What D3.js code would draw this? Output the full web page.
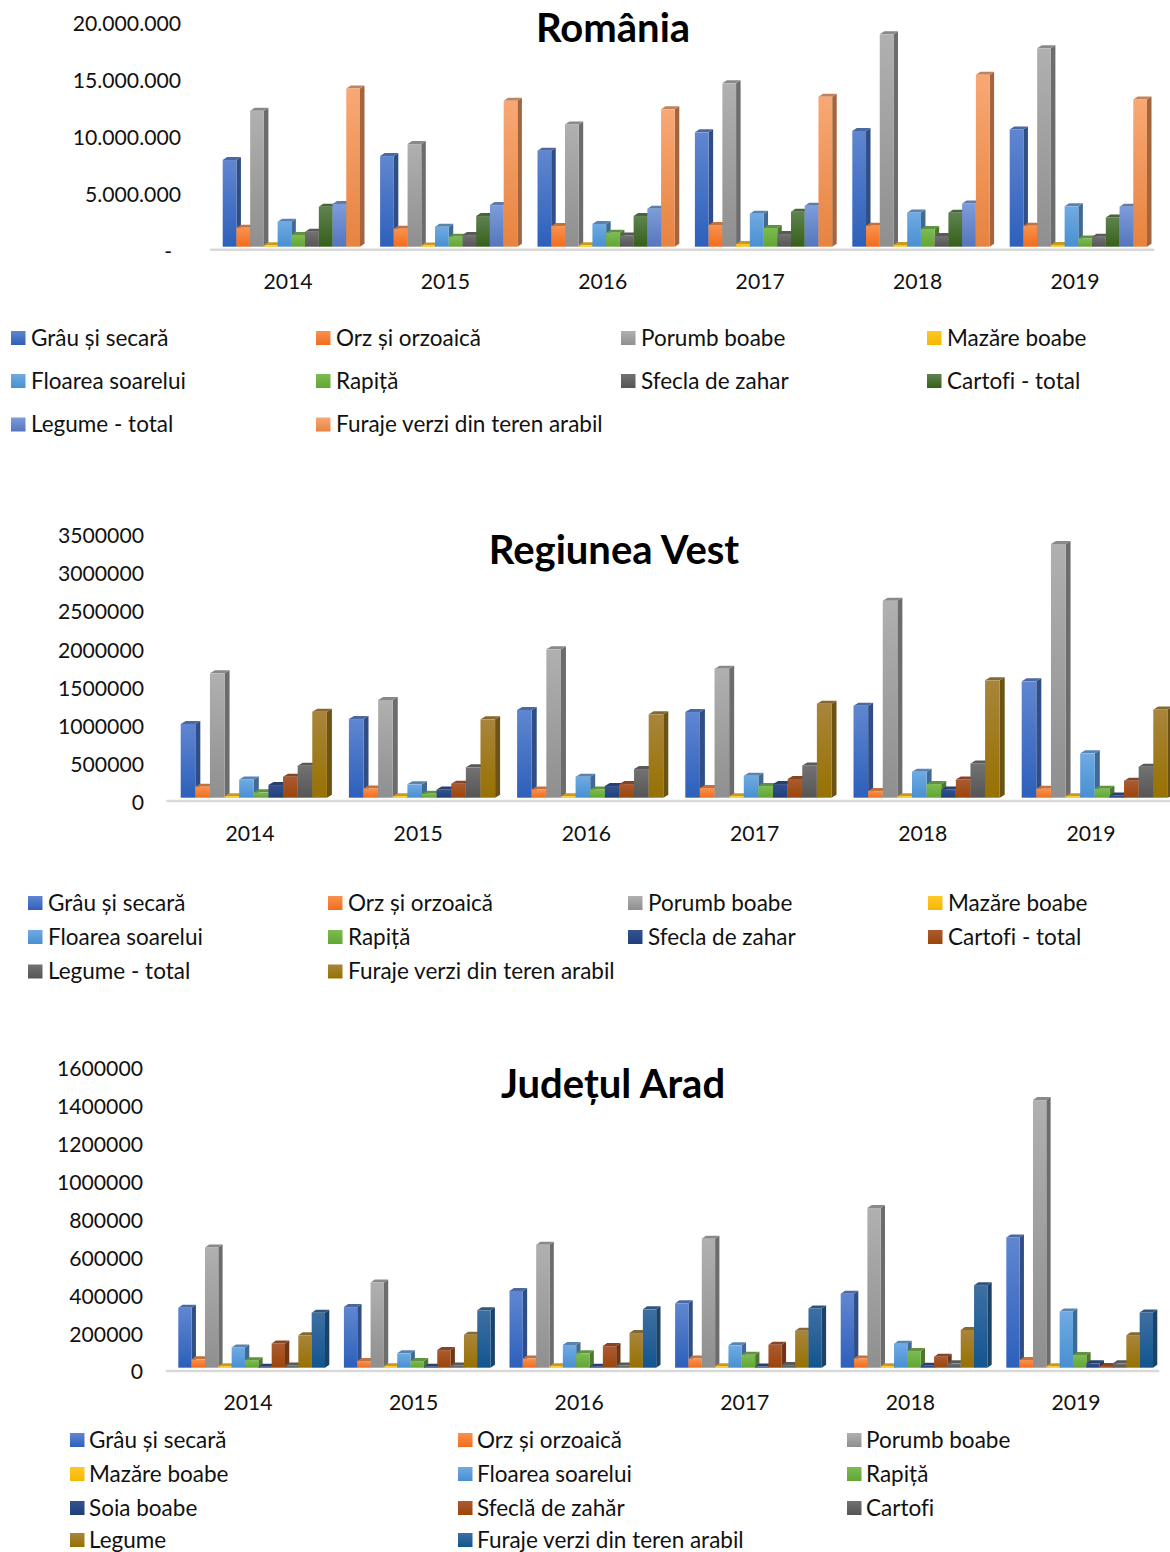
<!DOCTYPE html>
<html>
<head>
<meta charset="utf-8">
<script src="https://cdn.jsdelivr.net/npm/d3@7"></script>
<style>
  html, body { margin: 0; background: #fff; }
  svg { display: block; font-family: Lato, "Open Sans", sans-serif; font-variant-ligatures: none; }
</style>
</head>
<body>
<div id="chart"></div>
<script>
const years = ["2014", "2015", "2016", "2017", "2018", "2019"];

// Romania
const roNames = ["Grâu și secară", "Orz și orzoaică", "Porumb boabe", "Mazăre boabe", "Floarea soarelui",
  "Rapiță", "Sfecla de zahar", "Cartofi - total", "Legume - total", "Furaje verzi din teren arabil"];
const roValues = [
  [7600000, 1670000, 11930000, 120000, 2190000, 1030000, 1320000, 3510000, 3750000, 13870000],
  [7950000, 1580000, 9000000, 100000, 1750000, 880000, 1020000, 2690000, 3650000, 12800000],
  [8420000, 1810000, 10730000, 120000, 1990000, 1230000, 990000, 2690000, 3330000, 12050000],
  [10030000, 1900000, 14330000, 230000, 2890000, 1640000, 1110000, 3070000, 3600000, 13160000],
  [10150000, 1840000, 18630000, 150000, 3010000, 1550000, 940000, 2980000, 3800000, 15090000],
  [10290000, 1840000, 17400000, 150000, 3540000, 730000, 880000, 2570000, 3510000, 12920000]
];
const roTicks = [0, 5000000, 10000000, 15000000, 20000000];

// Regiunea Vest
const vestNames = ["Grâu și secară", "Orz și orzoaică", "Porumb boabe", "Mazăre boabe", "Floarea soarelui",
  "Rapiță", "Sfecla de zahar", "Cartofi - total", "Legume - total", "Furaje verzi din teren arabil"];
const vestValues = [
  [967000, 144000, 1632000, 20000, 240000, 70000, 166000, 276000, 420000, 1129000],
  [1032000, 122000, 1282000, 20000, 175000, 52000, 109000, 184000, 398000, 1028000],
  [1151000, 109000, 1947000, 20000, 276000, 109000, 153000, 179000, 376000, 1094000],
  [1124000, 127000, 1693000, 20000, 289000, 153000, 179000, 245000, 424000, 1234000],
  [1207000, 87000, 2585000, 20000, 341000, 179000, 109000, 240000, 450000, 1540000],
  [1527000, 118000, 3329000, 20000, 582000, 118000, 30000, 223000, 407000, 1159000]
];
const vestTicks = [0, 500000, 1000000, 1500000, 2000000, 2500000, 3000000, 3500000];

// Judetul Arad
const aradNames = ["Grâu și secară", "Orz și orzoaică", "Porumb boabe", "Mazăre boabe", "Floarea soarelui",
  "Rapiță", "Soia boabe", "Sfeclă de zahăr", "Cartofi", "Legume", "Furaje verzi din teren arabil"];
const aradValues = [
  [317000, 44000, 635000, 8000, 107000, 40000, 5000, 128000, 12000, 171000, 290000],
  [320000, 35000, 450000, 8000, 76000, 35000, 5000, 93000, 12000, 174000, 303000],
  [405000, 48000, 649000, 8000, 120000, 76000, 5000, 114000, 12000, 183000, 308000],
  [340000, 48000, 681000, 8000, 118000, 69000, 6000, 121000, 14000, 195000, 313000],
  [391000, 49000, 843000, 8000, 127000, 88000, 10000, 58000, 23000, 199000, 436000],
  [688000, 41000, 1413000, 8000, 297000, 67000, 23000, 9000, 23000, 172000, 292000]
];
const aradTicks = [0, 200000, 400000, 600000, 800000, 1000000, 1200000, 1400000, 1600000];

// culori: [sus, jos]
const blue = ["#6086d0", "#2d60bb"], orange = ["#f8924f", "#f26c1c"], gray = ["#b0b0b0", "#8f8f8f"],
  gold = ["#ffc72a", "#f5b800"], sky = ["#70aae2", "#4890d2"], green = ["#7cbb52", "#62a632"],
  navy = ["#34528e", "#1f3f7c"], rust = ["#ab5a32", "#9c4508"], dark = ["#727272", "#555555"],
  ochre = ["#a8853c", "#977100"], teal = ["#3e6fa2", "#12558f"],
  darkGreen = ["#5f8250", "#35601a"], lightBlue = ["#7d9cdb", "#5576bd"], peach = ["#f8a875", "#e7833f"];

const roColors = [blue, orange, gray, gold, sky, green, dark, darkGreen, lightBlue, peach];
const vestColors = [blue, orange, gray, gold, sky, green, navy, rust, dark, ochre];
const aradColors = [blue, orange, gray, gold, sky, green, navy, rust, dark, ochre, teal];

const fmtDots = d3.formatLocale({ decimal: ",", thousands: ".", grouping: [3], currency: ["", ""] }).format(",");

const svg = d3.select("#chart").append("svg")
  .attr("width", 1170)
  .attr("height", 1552);
const defs = svg.append("defs");

function drawChart(c) {
  const g = svg.append("g");

  c.colors.forEach((col, i) => {
    const grad = defs.append("linearGradient")
      .attr("id", `${c.id}-${i}`)
      .attr("x1", 0).attr("y1", 0).attr("x2", 0).attr("y2", 1);
    grad.append("stop").attr("offset", "0%").attr("stop-color", col[0]);
    grad.append("stop").attr("offset", "100%").attr("stop-color", col[1]);
  });

  const y = d3.scaleLinear().domain(c.yDomain).range([c.base, c.top]);
  const x0 = d3.scaleBand().domain(years).range(c.xRange);
  const x1 = d3.scaleBand().domain(c.names).range(c.inner);

  // asse y
  const axisY = g.append("g")
    .attr("transform", `translate(${c.yLabelX},${c.yLabelShift})`)
    .call(d3.axisLeft(y).tickValues(c.ticks).tickSize(0).tickPadding(0).tickFormat(c.tickFormat));
  axisY.select(".domain").remove();
  axisY.selectAll("text")
    .attr("font-family", "Lato, sans-serif")
    .attr("font-size", c.fontSize)
    .attr("fill", "#111")
    .attr("dx", d => (d === 0 && c.dash ? -9 : 0));

  // asse x
  const axisX = g.append("g")
    .attr("transform", `translate(0,${c.floor})`)
    .call(d3.axisBottom(x0).tickSize(0).tickPadding(c.xPad));
  axisX.select(".domain").attr("stroke", "#d9d9d9").attr("stroke-width", 2.6);
  axisX.selectAll("text")
    .attr("font-family", "Lato, sans-serif")
    .attr("font-size", c.fontSize)
    .attr("fill", "#111");

  // bare 3D
  const w = x1.bandwidth();
  const groups = g.selectAll(".year")
    .data(c.values)
    .enter().append("g")
    .attr("class", "year")
    .attr("transform", (d, i) => `translate(${x0(years[i])},0)`);

  const bars = groups.selectAll(".bar")
    .data(row => row.map((v, i) => ({ v, i })))
    .enter().append("g")
    .attr("class", "bar");

  bars.append("path")
    .attr("fill", d => d3.color(d3.interpolateRgb(c.colors[d.i][0], c.colors[d.i][1])(0.5)).darker(1.1))
    .attr("d", d => {
      const xr = x1(c.names[d.i]) + w;
      return `M${xr},${y(d.v)}l${c.dx},${-c.dy}L${xr + c.dx},${y(0) - c.dy}L${xr},${y(0)}Z`;
    });
  bars.append("path")
    .attr("fill", d => d3.color(c.colors[d.i][0]).darker(0.7))
    .attr("d", d => {
      const xl = x1(c.names[d.i]);
      return `M${xl},${y(d.v)}l${c.dx},${-c.dy}h${w}l${-c.dx},${c.dy}Z`;
    });
  bars.append("rect")
    .attr("x", d => x1(c.names[d.i]))
    .attr("y", d => y(d.v))
    .attr("width", w)
    .attr("height", d => y(0) - y(d.v))
    .attr("fill", d => `url(#${c.id}-${d.i})`);

  // titlu
  g.append("text")
    .attr("x", c.titleX)
    .attr("y", c.titleY)
    .attr("text-anchor", "middle")
    .attr("font-weight", 700)
    .attr("font-size", c.titleSize)
    .attr("fill", "#000")
    .text(c.title);

  // legenda
  const legend = g.selectAll(".legend")
    .data(c.names)
    .enter().append("g")
    .attr("class", "legend")
    .attr("transform", (d, i) => {
      const col = i % c.legendX.length, row = Math.floor(i / c.legendX.length);
      return `translate(${c.legendX[col]},${c.legendY[row]})`;
    });
  legend.append("rect")
    .attr("x", 0).attr("y", -7)
    .attr("width", 14.5).attr("height", 14)
    .attr("fill", (d, i) => `url(#${c.id}-${i})`);
  legend.append("text")
    .attr("x", c.legendText)
    .attr("dy", "0.35em")
    .attr("font-size", c.legendSize)
    .attr("fill", "#111")
    .text(d => d);
}

drawChart({
  id: "ro", title: "România", titleX: 613, titleY: 42, titleSize: 40,
  names: roNames, values: roValues, colors: roColors, ticks: roTicks,
  yDomain: [0, 20000000], base: 246.7, top: 18.7,
  yLabelX: 181, yLabelShift: 5.5, floor: 249.3, xPad: 25,
  xRange: [209.3, 1153.7], inner: [13.4, 150.7], dx: 4.5, dy: 3,
  tickFormat: d => (d === 0 ? "-" : fmtDots(d)), dash: true,
  fontSize: 21.2, legendSize: 22.5, legendText: 20,
  legendX: [11, 316, 621, 927], legendY: [338, 381, 424.5]
});

drawChart({
  id: "vest", title: "Regiunea Vest", titleX: 614, titleY: 564, titleSize: 40,
  names: vestNames, values: vestValues, colors: vestColors, ticks: vestTicks,
  yDomain: [0, 3500000], base: 797.7, top: 531,
  yLabelX: 144, yLabelShift: 5, floor: 800.5, xPad: 25,
  xRange: [165.9, 1175.1], inner: [14.8, 161], dx: 5, dy: 3,
  tickFormat: d => String(d), dash: false,
  fontSize: 21.2, legendSize: 22.5, legendText: 20,
  legendX: [28, 328, 628, 928], legendY: [903, 937, 971.5]
});

drawChart({
  id: "arad", title: "Județul Arad", titleX: 613, titleY: 1098, titleSize: 40,
  names: aradNames, values: aradValues, colors: aradColors, ticks: aradTicks,
  yDomain: [0, 1600000], base: 1367.7, top: 1064.7,
  yLabelX: 143, yLabelShift: 4.5, floor: 1370.5, xPad: 24,
  xRange: [165.2, 1158.8], inner: [13.1, 159.8], dx: 4.3, dy: 3,
  tickFormat: d => String(d), dash: false,
  fontSize: 21.2, legendSize: 22.5, legendText: 19,
  legendX: [70, 458, 847], legendY: [1440, 1474, 1508, 1540]
});
</script>
</body>
</html>
